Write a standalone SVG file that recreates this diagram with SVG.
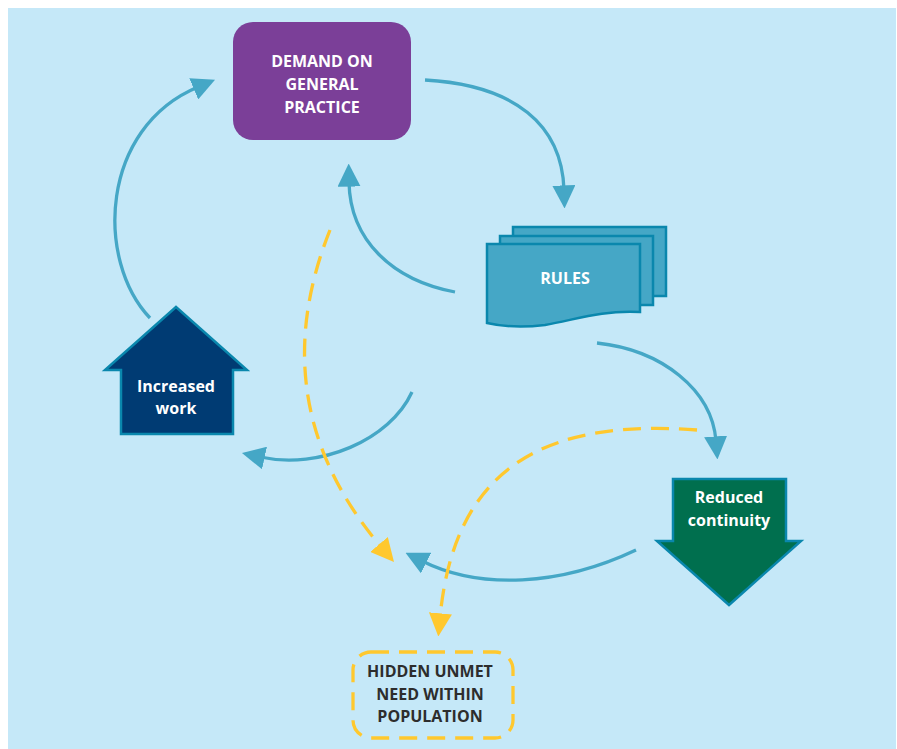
<svg xmlns="http://www.w3.org/2000/svg" width="897" height="749" viewBox="0 0 897 749">
<style>
.lbl{font-family:"Open Sans","Noto Sans","Liberation Sans",sans-serif;font-weight:700;font-size:16px;text-anchor:middle;fill:#ffffff}
.dark{fill:#2d2d2d}
.conn{fill:none;stroke:#45a7c6;stroke-width:3.3}
.dash{fill:none;stroke:#ffc82e;stroke-width:3.3;stroke-dasharray:18 10}
.doc{fill:#45a7c6;stroke:#0a87ad;stroke-width:2.5}
</style>
<defs>
<marker id="ah" viewBox="0 0 10 10" refX="2" refY="5" markerWidth="7" markerHeight="7" markerUnits="strokeWidth" orient="auto">
<path d="M0,0 L10,5 L0,10 z" fill="#45a7c6"/>
</marker>
<marker id="ay" viewBox="0 0 10 10" refX="2" refY="5" markerWidth="7" markerHeight="7" markerUnits="strokeWidth" orient="auto">
<path d="M0,0 L10,5 L0,10 z" fill="#ffc82e"/>
</marker>
</defs>
<rect x="8" y="8" width="888" height="741" fill="#c5e8f8"/>

<g id="connectors">
<path class="conn" d="M425,80 C515,85 562,125 564,190" marker-end="url(#ah)"/>
<path class="conn" d="M455,292 C392,280 350,240 349,182" marker-end="url(#ah)"/>
<path class="conn" d="M150,318 C95,260 100,128 198,87" marker-end="url(#ah)"/>
<path class="conn" d="M412,392 C390,440 320,470 260,457" marker-end="url(#ah)"/>
<path class="conn" d="M597,343 C662,350 712,390 716,441" marker-end="url(#ah)"/>
<path class="conn" d="M636,550 C560,586 480,590 422,561" marker-end="url(#ah)"/>
<path class="dash" d="M330,230 C290,330 290,440 382,548" marker-end="url(#ay)"/>
<path class="dash" d="M697,430 C560,420 455,455 440,618" marker-end="url(#ay)"/>
</g>

<g id="demand">
<rect x="233" y="22" width="178" height="118" rx="20" fill="#7b3f98"/>
<text class="lbl" x="322" y="67">DEMAND ON</text>
<text class="lbl" x="322" y="90">GENERAL</text>
<text class="lbl" x="322" y="113">PRACTICE</text>
</g>

<g id="rules">
<rect class="doc" x="513" y="227" width="153" height="69"/>
<rect class="doc" x="500" y="236" width="153" height="69"/>
<path class="doc" d="M487,244 L640,244 L640,312 C600,310 575,320 545,325 C520,328 500,326 487,323 Z"/>
<text class="lbl" x="565" y="284">RULES</text>
</g>

<g id="increased">
<path d="M176,307 L247,370 L233,370 L233,434 L121,434 L121,370 L105,370 Z" fill="#003b73" stroke="#0a87ad" stroke-width="2.5"/>
<text class="lbl" x="176" y="392">Increased</text>
<text class="lbl" x="176" y="414">work</text>
</g>

<g id="reduced">
<path d="M673,479 L786,479 L786,541 L801,541 L729,605 L657,541 L673,541 Z" fill="#006f4e" stroke="#0a87ad" stroke-width="2.5"/>
<text class="lbl" x="729" y="503">Reduced</text>
<text class="lbl" x="729" y="526">continuity</text>
</g>

<g id="hidden">
<rect x="353" y="652" width="160" height="86" rx="18" fill="none" stroke="#ffc82e" stroke-width="3.3" stroke-dasharray="18 10"/>
<text class="lbl dark" x="430" y="677">HIDDEN UNMET</text>
<text class="lbl dark" x="430" y="700">NEED WITHIN</text>
<text class="lbl dark" x="430" y="722">POPULATION</text>
</g>
</svg>
